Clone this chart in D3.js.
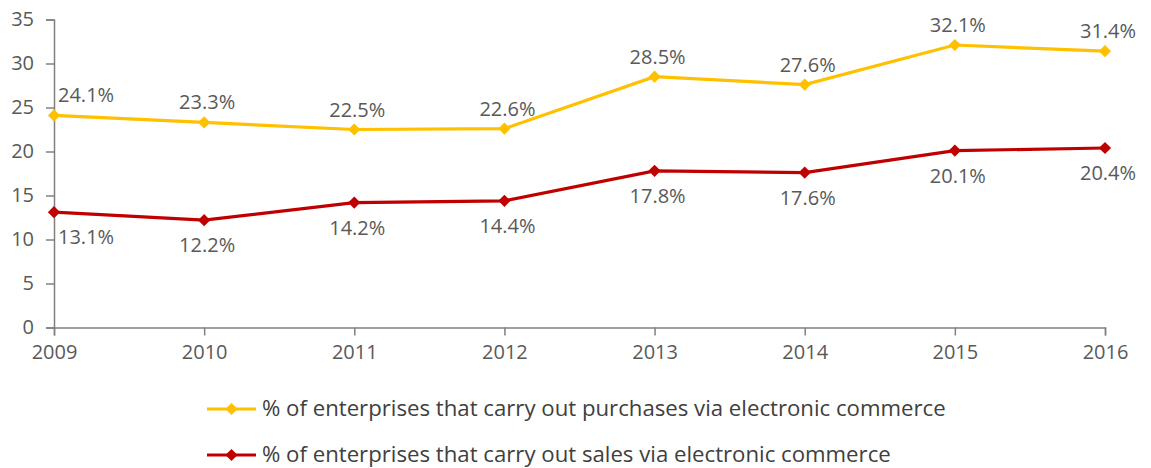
<!DOCTYPE html>
<html>
<head>
<meta charset="utf-8">
<script src="https://cdn.jsdelivr.net/npm/d3@7"></script>
<style>
  body { margin: 0; background: #fff; }
  svg text { font-family: "Open Sans", "Noto Sans", sans-serif; fill: #595959; }
</style>
</head>
<body>
<svg id="chart" width="1151" height="468"></svg>
<script>
const years = [2009, 2010, 2011, 2012, 2013, 2014, 2015, 2016];
const purchases = [24.1, 23.3, 22.5, 22.6, 28.5, 27.6, 32.1, 31.4];
const sales = [13.1, 12.2, 14.2, 14.4, 17.8, 17.6, 20.1, 20.4];
const yTicks = [0, 5, 10, 15, 20, 25, 30, 35];

const series = [
  { name: '% of enterprises that carry out purchases via electronic commerce', values: purchases, color: '#FFC000', labelPos: 'above' },
  { name: '% of enterprises that carry out sales via electronic commerce', values: sales, color: '#C00000', labelPos: 'below' }
];

const svg = d3.select('#chart');
const margin = { left: 54, right: 1105, top: 19.5, bottom: 327.5 };

const x = d3.scalePoint().domain(years).range([margin.left, margin.right]);
const y = d3.scaleLinear().domain([0, 35]).range([margin.bottom, margin.top]);

const axisColor = '#808080';

// y axis
const yAxis = svg.append('g')
  .attr('transform', `translate(${margin.left},0)`)
  .call(d3.axisLeft(y).tickValues(yTicks).tickSize(8).tickPadding(12));
yAxis.selectAll('text').style('font-size', '20px');

// x axis
const xAxis = svg.append('g')
  .attr('transform', `translate(0,${margin.bottom})`)
  .call(d3.axisBottom(x).tickSize(8).tickPadding(9).tickFormat(d3.format('d')));
xAxis.selectAll('text').style('font-size', '20px');

svg.selectAll('.domain').attr('stroke', axisColor).attr('stroke-width', 1.5);
svg.selectAll('.tick line').attr('stroke', axisColor).attr('stroke-width', 1.5);

const line = d3.line()
  .x((d, i) => x(years[i]))
  .y(d => y(d));

const diamond = d3.symbol().type(d3.symbolDiamond2).size(95);

series.forEach(s => {
  const g = svg.append('g');
  g.append('path')
    .attr('d', line(s.values))
    .attr('fill', 'none')
    .attr('stroke', s.color)
    .attr('stroke-width', 3.2);

  g.selectAll('path.pt')
    .data(s.values)
    .enter().append('path')
    .attr('class', 'pt')
    .attr('d', diamond)
    .attr('transform', (d, i) => `translate(${x(years[i])},${y(d)})`)
    .attr('fill', s.color);

  g.selectAll('text.lbl')
    .data(s.values)
    .enter().append('text')
    .attr('class', 'lbl')
    .attr('x', (d, i) => x(years[i]) + (i === 0 ? 4 : 3))
    .attr('y', d => y(d) + (s.labelPos === 'above' ? -13 : 32))
    .attr('text-anchor', (d, i) => i === 0 ? 'start' : 'middle')
    .style('font-size', '20px')
    .text(d => d.toFixed(1) + '%');
});

// legend
const legend = svg.append('g');
series.forEach((s, i) => {
  const ly = 409 + i * 46;
  legend.append('line')
    .attr('x1', 207).attr('x2', 256)
    .attr('y1', ly).attr('y2', ly)
    .attr('stroke', s.color).attr('stroke-width', 3.2);
  legend.append('path')
    .attr('d', diamond)
    .attr('transform', `translate(231.5,${ly})`)
    .attr('fill', s.color);
  legend.append('text')
    .attr('x', 262)
    .attr('y', ly + 7)
    .style('font-size', '22.2px')
    .style('fill', '#404040')
    .text(s.name);
});
</script>
</body>
</html>
